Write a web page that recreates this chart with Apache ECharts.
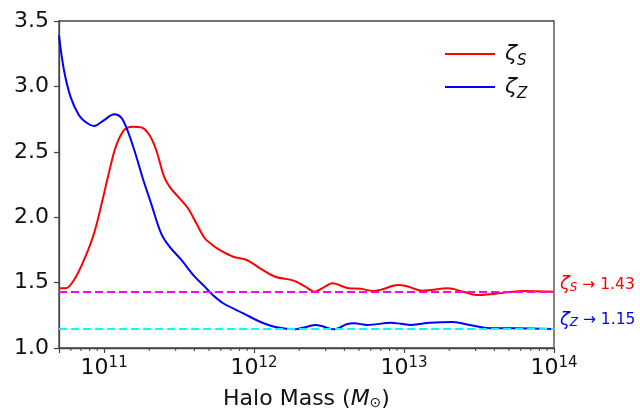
<!DOCTYPE html>
<html>
<head>
<meta charset="utf-8">
<script src="https://cdn.jsdelivr.net/npm/echarts@6/dist/echarts.min.js"></script>
<style>
  html, body { margin: 0; padding: 0; background: #fff; }
  #chart { width: 640px; height: 410px; }
</style>
</head>
<body>
<div id="chart"></div>
<script>
// log10 of halo mass
const zetaSLogM = [10.699, 10.743, 10.799, 10.866, 10.933, 10.989, 11.03, 11.078, 11.134, 11.19, 11.246,
  11.302, 11.347, 11.4, 11.445, 11.503, 11.559, 11.615, 11.671, 11.72, 11.772, 11.861, 11.951, 12.04,
  12.141, 12.264, 12.342, 12.403, 12.465, 12.521, 12.633, 12.711, 12.79, 12.857, 12.96, 13.013, 13.125,
  13.293, 13.394, 13.483, 13.595, 13.796, 14.0];
const zetaS = [1.456, 1.456, 1.52, 1.673, 1.877, 2.131, 2.33, 2.539, 2.667, 2.692, 2.687,
  2.628, 2.514, 2.31, 2.22, 2.144, 2.068, 1.953, 1.839, 1.79, 1.749, 1.698, 1.673, 1.609,
  1.545, 1.515, 1.469, 1.43, 1.464, 1.495, 1.456, 1.453, 1.436, 1.449, 1.482, 1.474, 1.438,
  1.456, 1.43, 1.405, 1.413, 1.436, 1.43];

const zetaZLogM = [10.699, 10.732, 10.776, 10.832, 10.888, 10.933, 11.0, 11.067, 11.112, 11.146, 11.201,
  11.257, 11.313, 11.38, 11.436, 11.515, 11.604, 11.671, 11.72, 11.794, 11.928, 12.04, 12.152, 12.275,
  12.353, 12.409, 12.465, 12.528, 12.622, 12.667, 12.756, 12.913, 12.98, 13.047, 13.17, 13.327, 13.438,
  13.572, 13.73, 14.0];
const zetaZ = [3.39, 3.125, 2.92, 2.78, 2.718, 2.697, 2.743, 2.787, 2.764, 2.692, 2.514,
  2.3, 2.106, 1.877, 1.775, 1.673, 1.545, 1.469, 1.41, 1.342, 1.265, 1.201, 1.158, 1.143,
  1.163, 1.176, 1.163, 1.143, 1.183, 1.189, 1.176, 1.193, 1.185, 1.176, 1.193, 1.199, 1.176,
  1.151, 1.151, 1.145];

const limitS = 1.43;
const limitZ = 1.15;

// minor tick positions on the log axis
const minorDecades = [10, 11, 12, 13];
const minorMults = [2, 3, 4, 5, 6, 7, 8, 9];

const xMin = 5e10, xMax = 1e14;

const toPairs = (lm, ys) => lm.map((v, i) => [Math.pow(10, v), ys[i]]);

const minorTicks = [];
minorDecades.forEach(d => minorMults.forEach(m => {
  const v = m * Math.pow(10, d);
  if (v > xMin && v < xMax) minorTicks.push([v, 1.0]);
}));

const axisColor = '#444';
const textColor = '#111';
const font = 'DejaVu Sans';

const chart = echarts.init(document.getElementById('chart'));

chart.setOption({
  animation: false,
  backgroundColor: '#fff',
  textStyle: { fontFamily: font },
  grid: {
    left: 59, right: 86, top: 21, bottom: 62,
    outerBoundsMode: 'none',
    show: true, borderColor: axisColor, borderWidth: 1.3, backgroundColor: 'transparent'
  },
  legend: {
    orient: 'vertical',
    left: 440, top: 38,
    itemWidth: 50, itemHeight: 2, itemGap: 7,
    icon: 'rect',
    data: ['zs', 'zz'],
    formatter: name => name === 'zs' ? '{g|ζ}{s|S}' : '{g|ζ}{s|Z}',
    textStyle: {
      rich: {
        g: { fontFamily: font, fontStyle: 'italic', fontSize: 22, color: textColor, lineHeight: 30, padding: [0, 0, 0, 5] },
        s: { fontFamily: font, fontStyle: 'italic', fontSize: 15, color: textColor, verticalAlign: 'bottom', lineHeight: 22 }
      }
    }
  },
  xAxis: {
    type: 'log',
    logBase: 10,
    min: xMin, max: xMax,
    axisLine: { lineStyle: { color: axisColor, width: 1.3 } },
    axisTick: { show: true, length: 5, lineStyle: { color: axisColor, width: 1.2 } },
    splitLine: { show: false },
    axisLabel: {
      margin: 8,
      formatter: v => {
        const e = Math.log10(v);
        if (Math.abs(e - Math.round(e)) > 1e-6) return '';
        return '{b|10}{s|' + Math.round(e) + '}';
      },
      rich: {
        b: { fontFamily: font, fontSize: 22, color: textColor, lineHeight: 24 },
        s: { fontFamily: font, fontSize: 15, color: textColor, verticalAlign: 'top', lineHeight: 24, padding: [0, 0, 12, 0] }
      }
    },
    name: '{a|Halo Mass (}{m|M}{o|⊙}{a|)}',
    nameLocation: 'middle',
    nameGap: 38,
    nameTextStyle: {
      rich: {
        a: { fontFamily: font, fontSize: 22, color: textColor },
        m: { fontFamily: font, fontSize: 22, fontStyle: 'italic', color: textColor },
        o: { fontFamily: font, fontSize: 14, color: textColor, padding: [8, 0, 0, 0] }
      }
    }
  },
  yAxis: {
    type: 'value',
    min: 1.0, max: 3.5, interval: 0.5,
    axisLine: { show: true, lineStyle: { color: axisColor, width: 1.3 } },
    axisTick: { show: true, length: 5, lineStyle: { color: axisColor, width: 1.2 } },
    splitLine: { show: false },
    axisLabel: {
      margin: 10,
      fontFamily: font, fontSize: 22, color: textColor,
      formatter: v => v.toFixed(1)
    }
  },
  series: [
    {
      name: 'zs',
      type: 'line',
      data: toPairs(zetaSLogM, zetaS),
      smooth: 0.35,
      showSymbol: false,
      color: '#ff0000',
      lineStyle: { width: 2, color: '#ff0000' },
      z: 3,
      markLine: {
        silent: true,
        symbol: 'none',
        lineStyle: { type: [8, 4], width: 2, color: '#ff00ff' },
        label: {
          position: 'end', distance: 6,
          formatter: '{g|ζ}{s|S}{t| → ' + limitS.toFixed(2) + '}',
          padding: [0, 0, 14, 0],
          rich: {
            g: { fontFamily: font, fontStyle: 'italic', fontSize: 18, color: '#ff0000' },
            s: { fontFamily: font, fontStyle: 'italic', fontSize: 12, color: '#ff0000', verticalAlign: 'bottom' },
            t: { fontFamily: font, fontSize: 15.5, color: '#ff0000' }
          }
        },
        data: [{ yAxis: limitS }]
      }
    },
    {
      name: 'zz',
      type: 'line',
      data: toPairs(zetaZLogM, zetaZ),
      smooth: 0.35,
      showSymbol: false,
      color: '#0000ff',
      lineStyle: { width: 2, color: '#0000ff' },
      z: 3,
      markLine: {
        silent: true,
        symbol: 'none',
        lineStyle: { type: [8, 4], width: 2, color: '#00ffff' },
        label: {
          position: 'end', distance: 6,
          formatter: '{g|ζ}{s|Z}{t| → ' + limitZ.toFixed(2) + '}',
          padding: [0, 0, 17, 0],
          rich: {
            g: { fontFamily: font, fontStyle: 'italic', fontSize: 18, color: '#0000ff' },
            s: { fontFamily: font, fontStyle: 'italic', fontSize: 12, color: '#0000ff', verticalAlign: 'bottom' },
            t: { fontFamily: font, fontSize: 15.5, color: '#0000ff' }
          }
        },
        data: [{ yAxis: limitZ }]
      }
    },
    {
      // minor ticks on the log x axis
      type: 'custom',
      silent: true,
      clip: false,
      data: minorTicks,
      renderItem: (params, api) => {
        const p = api.coord([api.value(0), api.value(1)]);
        return {
          type: 'line',
          shape: { x1: p[0], y1: p[1], x2: p[0], y2: p[1] + 3 },
          style: { stroke: axisColor, lineWidth: 1 }
        };
      }
    }
  ]
});
</script>
</body>
</html>
